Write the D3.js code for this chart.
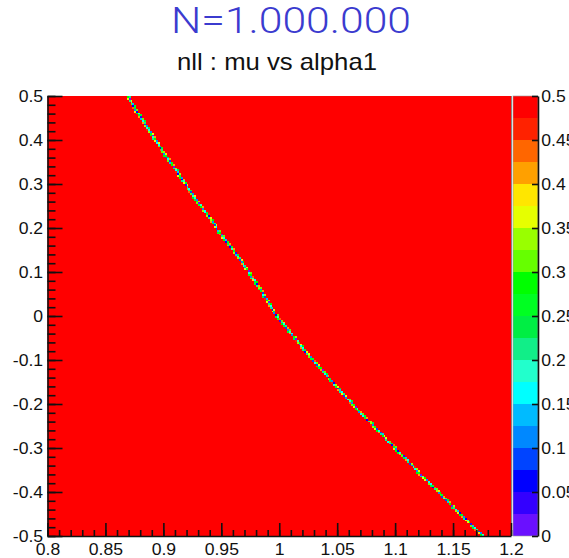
<!DOCTYPE html>
<html>
<head>
<meta charset="utf-8">
<script src="https://cdn.jsdelivr.net/npm/d3@7"></script>
<style>
  body { margin: 0; background: #fff; }
  svg { display: block; font-family: "Liberation Sans", Arial, Helvetica, sans-serif; }
</style>
</head>
<body>
<div id="viz"></div>
<script>
const width = 569;
const height = 558;
const frame = {left: 47.5, right: 511, top: 96, bottom: 536};
const paletteBox = {left: 513, right: 538};

// histogram binning: alpha1 on x, mu on y
const alphaRange = [0.8, 1.2];
const muRange = [-0.5, 0.5];
const nBinsX = 240;
const nBinsY = 240;

// z axis (nll) and the 20 colour levels, lowest first
const zRange = [0, 0.5];
const paletteColors = [
  '#6a10ff', '#3300ff', '#0000ff', '#0044ff', '#0088ff',
  '#00bbff', '#00ffff', '#22ffcc', '#11ee88', '#00ee44',
  '#00ff22', '#00ff00', '#66ff00', '#99ff00', '#e6ff00',
  '#ffe600', '#ffa000', '#ff6600', '#ff2200', '#ff0000'
];
// every bin away from the valley is above the z maximum
const backgroundLevel = 0.5;

// the valley of the likelihood
const valleyMu     = [0.5,   0.4,   0.3,   0.2,   0.1,   0,     -0.1,  -0.2,  -0.3,  -0.4,  -0.5];
const valleyAlpha1 = [0.869, 0.893, 0.919, 0.946, 0.974, 0.998, 1.029, 1.063, 1.100, 1.137, 1.176];
// bin contents along the valley (centre bin and its neighbour)
const valleyCoreValues = [
  0.18, 0.11, 0.09, 0.22, 0.16, 0.14, 0.04, 0.27, 0.19, 0.06, 0.11, 0.24, 0.07,
  0.13, 0.16, 0.21, 0.02, 0.29, 0.13, 0.08, 0.17, 0.08, 0.26, 0.12, 0.34, 0.20,
  0.05, 0.23, 0.15, 0.15, 0.10, 0.28, 0.18, 0.01, 0.25, 0.12, 0.16
];
const valleyEdgeValues = [
  0.28, 0.39, 0.31, 0.44, 0.26, 0.30, 0.52, 0.37, 0.35, 0.22, 0.42, 0.29,
  0.37, 0.33, 0.46, 0.24, 0.33, 0.55, 0.40, 0.27, 0.32, 0.41, 0.25
];

const xTicks = [0.8, 0.85, 0.9, 0.95, 1, 1.05, 1.1, 1.15, 1.2];
const yTicks = [-0.5, -0.4, -0.3, -0.2, -0.1, 0, 0.1, 0.2, 0.3, 0.4, 0.5];
const zTicks = [0, 0.05, 0.1, 0.15, 0.2, 0.25, 0.3, 0.35, 0.4, 0.45, 0.5];

const titleText = 'N=1.000.000';
const subtitleText = 'nll : mu vs alpha1';

// Scales
const scaleX = d3.scaleLinear().domain(alphaRange).range([frame.left, frame.right]);
const scaleY = d3.scaleLinear().domain(muRange).range([frame.bottom, frame.top]);
const scaleZ = d3.scaleLinear().domain(zRange).range([frame.bottom, frame.top]);
const scaleColor = d3.scaleQuantize().domain(zRange).range(paletteColors);
const colorOf = v => v >= zRange[1] ? paletteColors[paletteColors.length - 1] : scaleColor(v);

// bin index <-> value
const binX = d3.scaleLinear().domain(alphaRange).range([0, nBinsX]);
const binY = d3.scaleLinear().domain(muRange).range([0, nBinsY]);
const valley = d3.scaleLinear().domain(valleyMu).range(valleyAlpha1);

// Build the bins along the valley
const cells = [];
d3.range(nBinsY).forEach(j => {
  const mu = binY.invert(j + 0.5);
  const pos = binX(valley(mu));
  const i = Math.floor(pos);
  const side = pos - i > 0.5 ? 1 : -1;
  cells.push({i: i, j: j, value: valleyCoreValues[j % valleyCoreValues.length]});
  cells.push({i: i + side, j: j, value: valleyEdgeValues[j % valleyEdgeValues.length]});
});

const svg = d3.select('#viz')
  .append('svg')
    .attr('width', width)
    .attr('height', height)
    .attr('viewBox', [0, 0, width, height]);

// Histogram: background bins + valley bins
svg.append('rect')
  .attr('x', scaleX(alphaRange[0]))
  .attr('y', scaleY(muRange[1]))
  .attr('width', scaleX(alphaRange[1]) - scaleX(alphaRange[0]))
  .attr('height', scaleY(muRange[0]) - scaleY(muRange[1]))
  .attr('fill', colorOf(backgroundLevel));

svg.append('g')
    .attr('class', 'valley')
    .attr('shape-rendering', 'crispEdges')
  .selectAll('rect')
  .data(cells.filter(d => d.value < zRange[1]))
  .join('rect')
    .attr('x', d => scaleX(binX.invert(d.i)))
    .attr('y', d => scaleY(binY.invert(d.j + 1)))
    .attr('width', d => scaleX(binX.invert(d.i + 1)) - scaleX(binX.invert(d.i)))
    .attr('height', d => scaleY(binY.invert(d.j)) - scaleY(binY.invert(d.j + 1)))
    .attr('fill', d => colorOf(d.value));

// thin right edge of the frame
svg.append('line')
  .attr('x1', frame.right + 0.5).attr('x2', frame.right + 0.5)
  .attr('y1', frame.top).attr('y2', frame.bottom)
  .attr('stroke', '#888').attr('stroke-width', 1);

const styleAxis = g => {
  g.selectAll('path.domain').attr('stroke', '#111').attr('stroke-width', 1.6);
  g.selectAll('.tick line').attr('stroke', '#111').attr('stroke-width', 1.6);
  g.selectAll('.tick text')
    .attr('fill', '#111')
    .style('font-size', '16px')
    .attr('transform', 'scale(1.1,1)');
};

// Y axis (ticks point into the plot)
svg.append('g')
    .attr('transform', `translate(${frame.left},0)`)
  .call(d3.axisLeft(scaleY).tickValues(scaleY.ticks(50)).tickSize(-8).tickFormat(''))
  .call(g => g.select('.domain').remove())
  .call(styleAxis);
svg.append('g')
    .attr('transform', `translate(${frame.left},0)`)
  .call(d3.axisLeft(scaleY).tickValues(yTicks).tickSizeInner(-15).tickSizeOuter(0)
    .tickPadding(4).tickFormat(d => String(d)))
  .call(styleAxis);

// X axis
svg.append('g')
    .attr('transform', `translate(0,${frame.bottom})`)
  .call(d3.axisBottom(scaleX).tickValues(scaleX.ticks(40)).tickSize(-6).tickFormat(''))
  .call(g => g.select('.domain').remove())
  .call(styleAxis);
svg.append('g')
    .attr('transform', `translate(0,${frame.bottom})`)
  .call(d3.axisBottom(scaleX).tickValues(xTicks).tickSizeInner(-13).tickSizeOuter(0)
    .tickPadding(8).tickFormat(d => String(d)))
  .call(styleAxis);

// Colour palette
svg.append('g')
    .attr('class', 'palette')
  .selectAll('rect')
  .data(paletteColors)
  .join('rect')
    .attr('x', paletteBox.left)
    .attr('width', paletteBox.right - paletteBox.left)
    .attr('y', c => scaleZ(scaleColor.invertExtent(c)[1]))
    .attr('height', c => scaleZ(scaleColor.invertExtent(c)[0]) - scaleZ(scaleColor.invertExtent(c)[1]))
    .attr('fill', c => c);
svg.append('rect')
  .attr('x', paletteBox.left).attr('y', frame.top)
  .attr('width', paletteBox.right - paletteBox.left)
  .attr('height', frame.bottom - frame.top)
  .attr('fill', 'none').attr('stroke', '#999').attr('stroke-width', 0.6);
svg.append('g')
    .attr('transform', `translate(${paletteBox.right},0)`)
  .call(d3.axisRight(scaleZ).tickValues(zTicks).tickSizeInner(-6).tickSizeOuter(0)
    .tickPadding(3).tickFormat(d => String(d)))
  .call(styleAxis);

// Titles
svg.append('text')
  .attr('x', 291)
  .attr('y', 33)
  .attr('text-anchor', 'middle')
  .attr('textLength', 240)
  .attr('lengthAdjust', 'spacingAndGlyphs')
  .style('font-family', 'Roboto, "Liberation Sans", sans-serif')
  .style('font-weight', 300)
  .style('font-size', '36px')
  .attr('fill', '#3b3bcf')
  .text(titleText);

svg.append('text')
  .attr('x', 277)
  .attr('y', 70)
  .attr('text-anchor', 'middle')
  .attr('textLength', 200)
  .attr('lengthAdjust', 'spacingAndGlyphs')
  .style('font-size', '24px')
  .attr('fill', '#111')
  .text(subtitleText);
</script>
</body>
</html>
